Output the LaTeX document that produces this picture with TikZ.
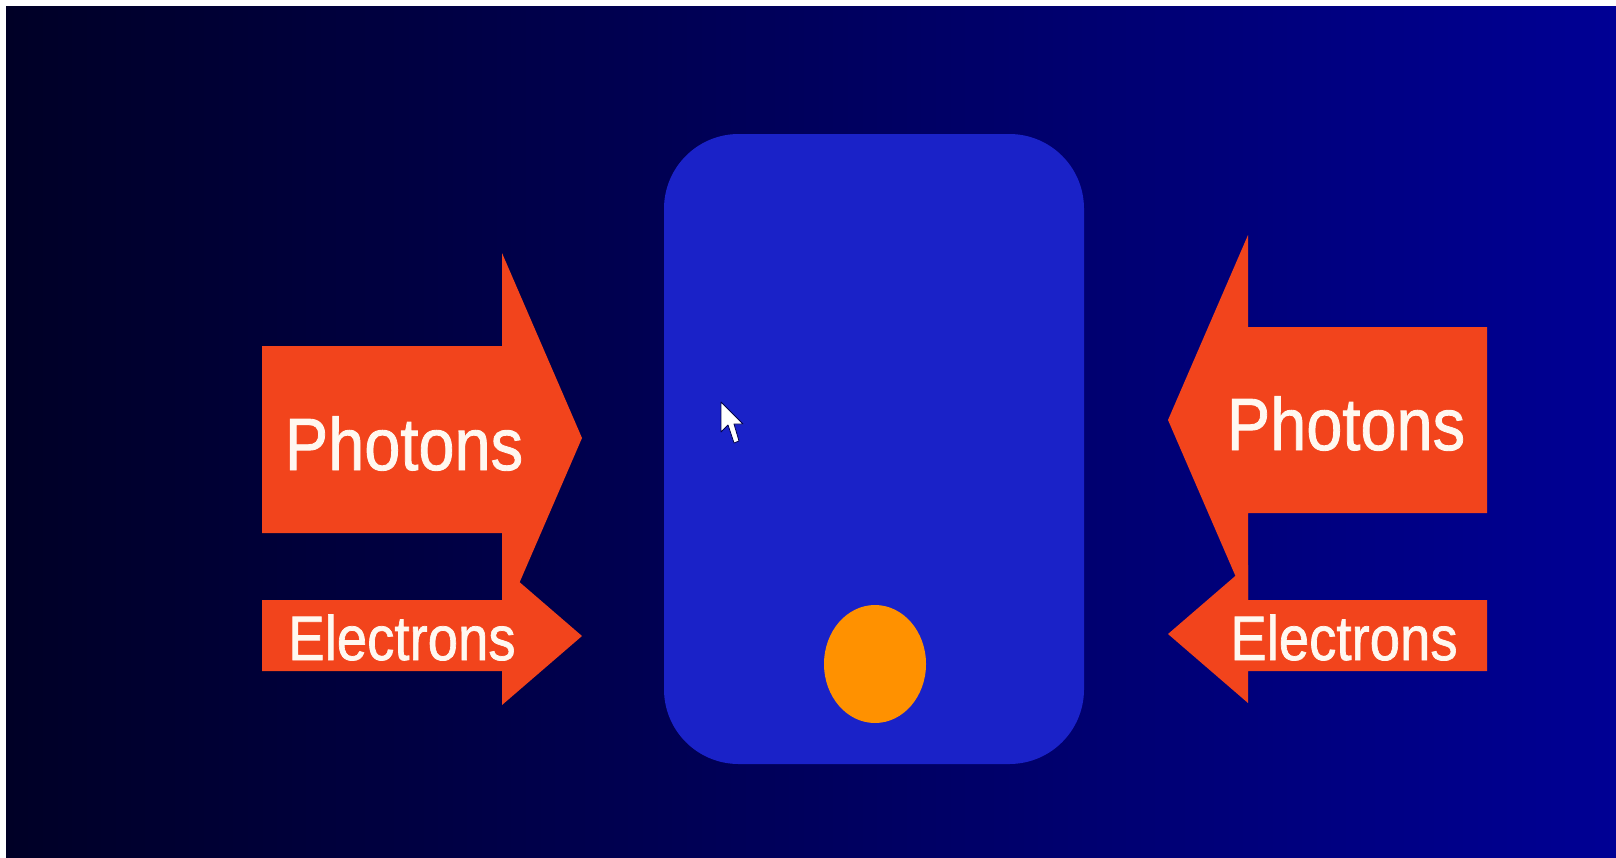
\documentclass[tikz,border=0pt]{standalone}
\usepackage{fontspec}
\setmainfont{Liberation Sans}
\newfontfamily\labelfont{Liberation Sans}[FakeBold=1.2]
\usepackage{graphicx}
\definecolor{bgleft}{RGB}{0,0,38}
\definecolor{bgright}{RGB}{0,0,148}
\definecolor{boxblue}{RGB}{26,34,200}
\definecolor{arrowred}{RGB}{242,68,28}
\definecolor{ballorange}{RGB}{255,145,0}
\definecolor{textwhite}{RGB}{255,248,240}
\tikzset{
  arrowshape/.style={fill=arrowred},
  biglabel/.style={anchor=base, inner sep=0pt, text=textwhite,
    font=\labelfont\fontsize{48.7pt}{50pt}\selectfont},
  smalllabel/.style={anchor=base, inner sep=0pt, text=textwhite,
    font=\labelfont\fontsize{40.9pt}{42pt}\selectfont},
}
\begin{document}
\begin{tikzpicture}[x=0.75pt,y=-0.75pt]
\useasboundingbox (0,0) rectangle (1616,857);
% page background with thin white border top/left
\fill[white] (0,0) rectangle (1616,857);
\shade[left color=bgleft, right color=bgright] (6,6) rectangle (1616,857);

% central rounded box
\fill[boxblue, rounded corners=56pt] (664,134) rectangle (1084,764);
% orange ball
\fill[ballorange] (875,664) ellipse [x radius=51, y radius=59];

% mouse cursor
\filldraw[fill=white, draw=black!70!blue, line width=0.6pt, line join=round]
  (721,402) -- (721,432) -- (728,425) -- (734,443) -- (739,441) -- (734,424) -- (743,424) -- cycle;

% left arrows (pointing right)
\fill[arrowshape] (262,346) -- (502,346) -- (502,253) -- (582,438) -- (502,623) -- (502,533) -- (262,533) -- cycle;
\fill[arrowshape] (262,600) -- (502,600) -- (502,567) -- (582,636) -- (502,705) -- (502,671) -- (262,671) -- cycle;

% right arrows (pointing left)
\fill[arrowshape] (1487,327) -- (1248,327) -- (1248,235) -- (1168,420) -- (1248,605) -- (1248,513) -- (1487,513) -- cycle;
\fill[arrowshape] (1487,600) -- (1248,600) -- (1248,565) -- (1168,634) -- (1248,703) -- (1248,671) -- (1487,671) -- cycle;

% labels
\node[biglabel] (photonsL) at (404,470) {\scalebox{1}[1.14]{Photons}};
\node[smalllabel] (electronsL) at (402,660) {\scalebox{1}[1.15]{Electrons}};
\node[biglabel] (photonsR) at (1346,450) {\scalebox{1}[1.14]{Photons}};
\node[smalllabel] (electronsR) at (1344,660) {\scalebox{1}[1.15]{Electrons}};
\end{tikzpicture}
\end{document}
